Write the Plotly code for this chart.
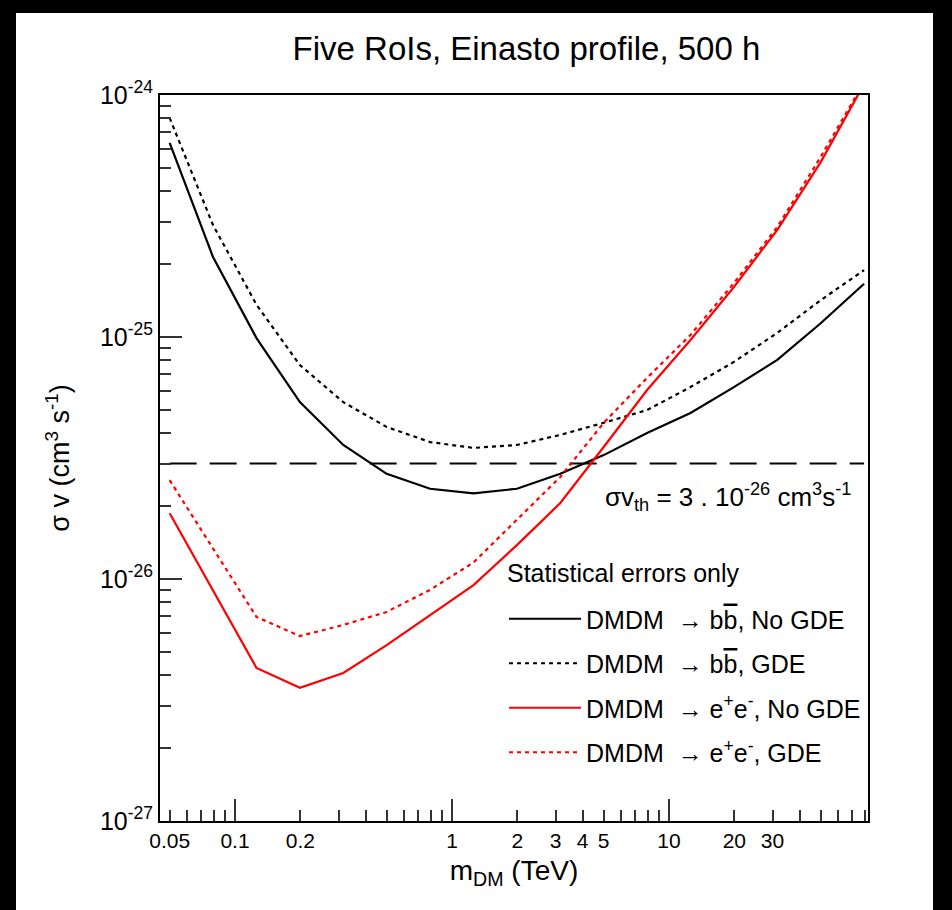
import plotly.graph_objects as go

# DM mass grid (TeV)
mass = [0.05, 0.0792, 0.1256, 0.1991, 0.3155, 0.5, 0.7924, 1.256, 1.991, 3.155,
        5.0, 7.924, 12.56, 19.91, 31.55, 50.0, 79.24]

# <sigma v> upper limits (cm^3 s^-1)
bb_nogde = [6.34e-25, 2.14e-25, 9.9e-26, 5.38e-26, 3.58e-26, 2.72e-26, 2.36e-26, 2.26e-26,
            2.36e-26, 2.72e-26, 3.25e-26, 4.01e-26, 4.85e-26, 6.21e-26, 8.04e-26, 1.14e-25, 1.66e-25]
bb_gde = [8.04e-25, 2.90e-25, 1.36e-25, 7.66e-26, 5.38e-26, 4.25e-26, 3.68e-26, 3.48e-26,
          3.58e-26, 3.94e-26, 4.42e-26, 4.99e-26, 6.21e-26, 7.89e-26, 1.04e-25, 1.42e-25, 1.89e-25]
ee_nogde = [1.87e-26, 9.0e-27, 4.29e-27, 3.55e-27, 4.09e-27, 5.33e-27, 7.10e-27, 9.44e-27,
            1.38e-26, 2.06e-26, 3.51e-26, 6.04e-26, 9.72e-26, 1.61e-25, 2.77e-25, 5.28e-25, 1.11e-24]
ee_gde = [2.56e-26, 1.34e-26, 6.97e-27, 5.81e-27, 6.46e-27, 7.31e-27, 9.02e-27, 1.17e-26,
          1.75e-26, 2.64e-26, 4.42e-26, 6.78e-26, 1.02e-25, 1.67e-25, 2.85e-25, 5.55e-25, 1.13e-24]

sigv_th = 3e-26
th_mass = [0.05, 79.24]

x_labels = [0.05, 0.1, 0.2, 1, 2, 3, 4, 5, 10, 20, 30]
x_label_text = ["0.05", "0.1", "0.2", "1", "2", "3", "4", "5", "10", "20", "30"]
x_long = [0.1, 1, 10]
x_minor = [0.06, 0.07, 0.08, 0.09, 0.3, 0.4, 0.5, 0.6, 0.7, 0.8, 0.9,
           6, 7, 8, 9, 40, 50, 60, 70, 80]
y_major = [1e-27, 1e-26, 1e-25, 1e-24]
y_major_text = ["10<sup>-27</sup>", "10<sup>-26</sup>", "10<sup>-25</sup>", "10<sup>-24</sup>"]
y_minor = [k * 10.0 ** e for e in (-27, -26, -25) for k in range(2, 10)]

FONT = "Liberation Sans, Arial, sans-serif"
RED = "#ff0000"
BB = "b<span style='text-decoration:overline'>b</span>"

fig = go.Figure()

fig.add_trace(go.Scatter(x=th_mass, y=[sigv_th, sigv_th], mode="lines",
                         line=dict(color="black", width=2, dash="27px,13px"),
                         showlegend=False, hoverinfo="skip"))

series = [
    (bb_nogde, "DMDM  \u2192 " + BB + ", No GDE", "black", "solid"),
    (bb_gde, "DMDM  \u2192 " + BB + ", GDE", "black", "4px,4px"),
    (ee_nogde, "DMDM  \u2192 e<sup>+</sup>e<sup>-</sup>, No GDE", RED, "solid"),
    (ee_gde, "DMDM  \u2192 e<sup>+</sup>e<sup>-</sup>, GDE", RED, "4px,4px"),
]
for i, (vals, name, col, dash) in enumerate(series):
    fig.add_trace(go.Scatter(x=mass, y=vals, mode="lines", name=name,
                             legendgroup="g%d" % i,
                             line=dict(color=col, width=2.2, dash=dash)))

xr = [-1.3456, 1.917]

W, H = 708.0, 726.0
def px(v):
    return (v - 160) / W
def py(v):
    return (821 - v) / H

fig.update_layout(
    width=952, height=910,
    margin=dict(l=160, r=84, t=95, b=89),
    paper_bgcolor="white", plot_bgcolor="white",
    font=dict(family=FONT, color="black", size=22),
    title=dict(text="Five RoIs, Einasto profile, 500 h", x=0.553, xref="container",
               y=1 - 48 / 910, yref="container", xanchor="center", yanchor="middle",
               font=dict(size=33, family=FONT)),
    xaxis=dict(type="log", range=xr, showgrid=False, zeroline=False,
               showline=True, linecolor="black", linewidth=2, mirror=True,
               tickmode="array", tickvals=x_labels, ticktext=x_label_text,
               ticks="inside", ticklen=11, tickwidth=1.5, tickcolor="#333",
               tickfont=dict(size=21),
               minor=dict(tickmode="array", tickvals=x_minor, ticks="inside",
                          ticklen=11, tickwidth=1.5, tickcolor="#333"),
               title=dict(text="m<sub>DM</sub> (TeV)", font=dict(size=28), standoff=9)),
    xaxis2=dict(type="log", range=xr, overlaying="x", anchor="y", side="bottom",
                showgrid=False, zeroline=False, showline=False,
                tickmode="array", tickvals=x_long, showticklabels=False,
                ticks="inside", ticklen=22, tickwidth=1.5, tickcolor="#333"),
    yaxis=dict(type="log", range=[-27, -24], showgrid=False, zeroline=False,
               showline=True, linecolor="black", linewidth=2, mirror=True,
               tickmode="array", tickvals=y_major, ticktext=y_major_text,
               ticks="inside", ticklen=22, tickwidth=1.5, tickcolor="#333",
               tickfont=dict(size=25),
               minor=dict(tickmode="array", tickvals=y_minor, ticks="inside",
                          ticklen=11, tickwidth=1.5, tickcolor="#333"),
               title=dict(text="\u03c3 v (cm<sup>3</sup> s<sup>-1</sup>)", font=dict(size=27),
                          standoff=22)),
    legend=dict(x=px(504), y=py(596), xanchor="left", yanchor="top",
                bgcolor="rgba(0,0,0,0)", borderwidth=0, font=dict(size=25, family=FONT),
                tracegroupgap=9, itemwidth=72, traceorder="grouped"),
    showlegend=True,
)

# invisible trace to anchor the overlay axis
fig.add_trace(go.Scatter(x=[1], y=[1e-26], xaxis="x2", mode="markers",
                         marker=dict(opacity=0), showlegend=False, hoverinfo="skip"))

fig.add_annotation(text="Statistical errors only", xref="paper", yref="paper",
                   x=px(505), y=py(573), xanchor="left", yanchor="middle", showarrow=False,
                   font=dict(size=25, family=FONT))

fig.add_annotation(text="\u03c3v<sub>th</sub> = 3 . 10<sup>-26</sup> cm<sup>3</sup>s<sup>-1</sup>",
                   xref="paper", yref="paper", x=px(728), y=py(497),
                   xanchor="center", yanchor="middle", showarrow=False,
                   font=dict(size=26, family=FONT))

# black screenshot border
for (x0, x1, y0, y1) in [(0, 16, 0, 910), (0, 952, 0, 13), (933, 952, 0, 910)]:
    fig.add_shape(type="rect", xref="paper", yref="paper",
                  x0=px(x0), x1=px(x1), y0=py(y1), y1=py(y0),
                  fillcolor="black", line=dict(width=0), layer="above")

fig.write_html("out.html")
